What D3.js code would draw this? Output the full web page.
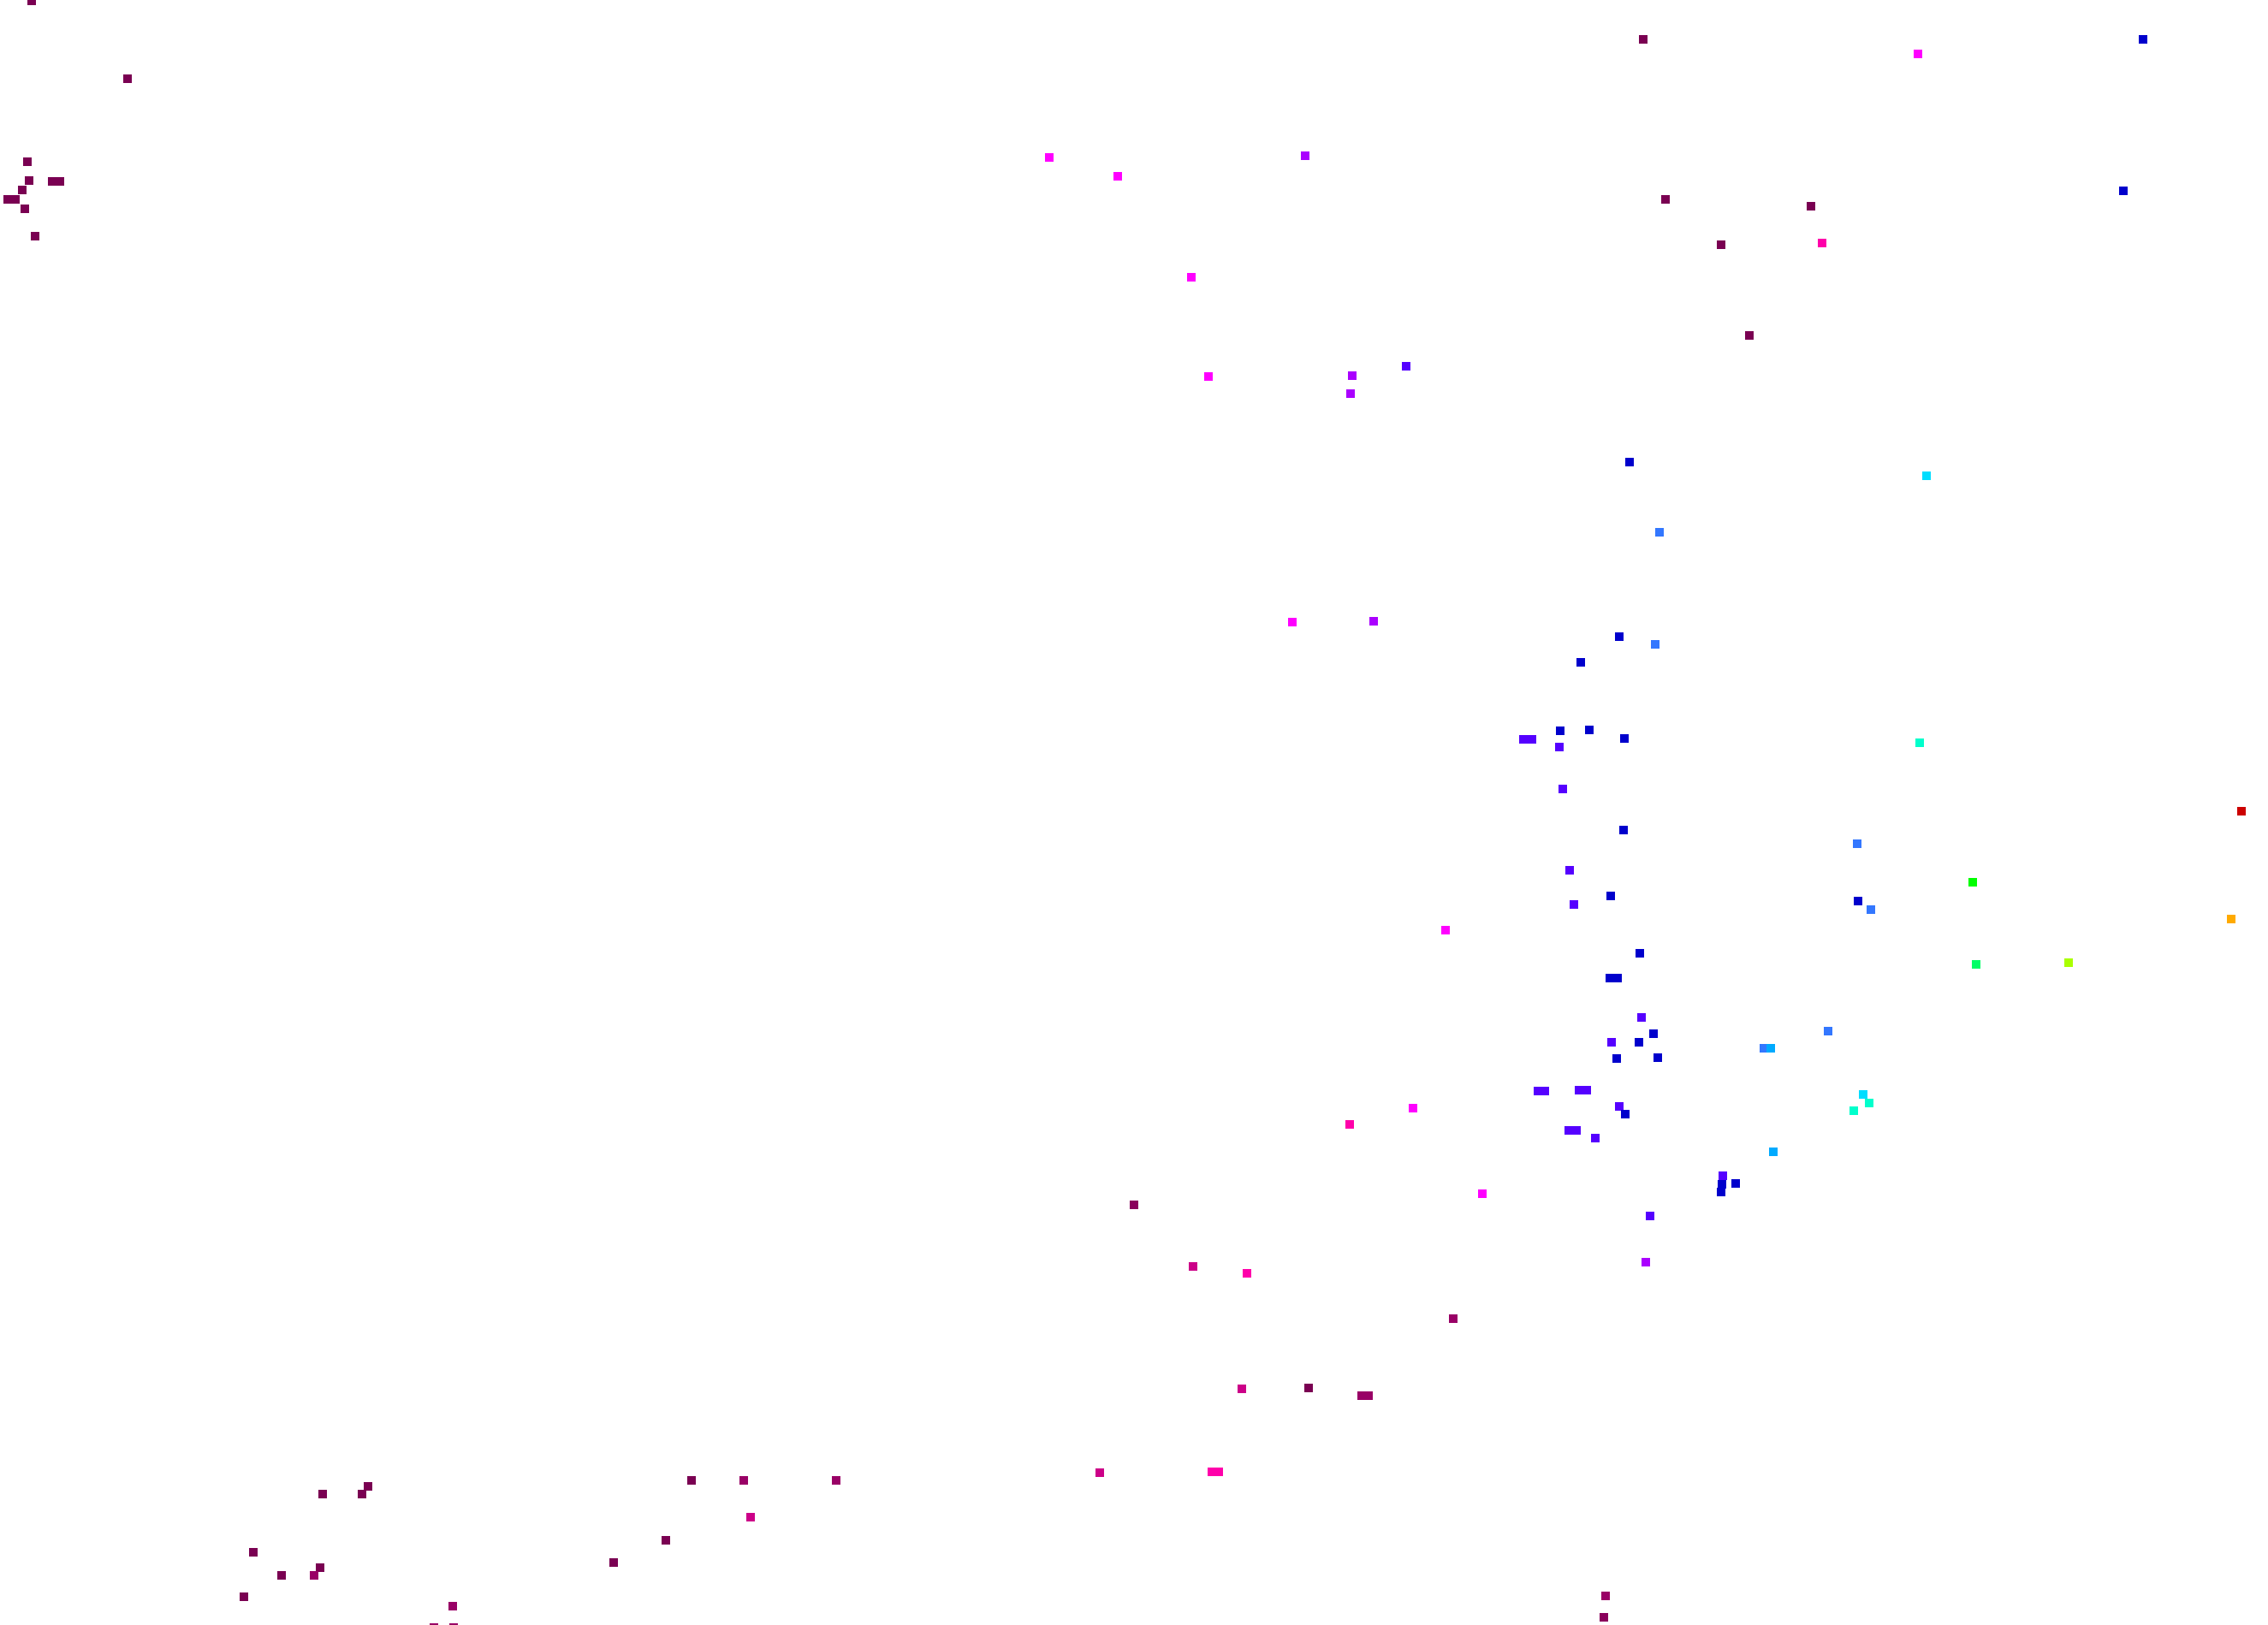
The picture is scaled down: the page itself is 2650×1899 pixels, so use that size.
<!DOCTYPE html>
<html>
<head>
<meta charset="utf-8">
<script src="https://cdn.jsdelivr.net/npm/d3@7"></script>
<style>
  html, body { margin: 0; padding: 0; background: #fff; }
  svg { display: block; }
</style>
</head>
<body>
<svg id="chart"></svg>
<script>
const width = 2650;
const height = 1899;

// colour levels (value -> colour)
const levelStops = [0, 8, 18, 28, 40, 50, 60, 70, 76, 82, 86, 89, 93, 95, 98, 100];
const levelColors = ["#7a0052", "#990066", "#cc0088", "#ff00aa", "#ff00ff", "#aa00ff",
  "#5500ff", "#0000cc", "#3377ff", "#00aaff", "#00ddff", "#00ffcc", "#00ff00",
  "#aaff00", "#ffaa00", "#cc0000"];

// points per level: [x, y]
const lvl0 = [[3.7, 0.1], [14.9, 9.2], [3.2, 18.9], [3.4, 21.1], [6.1, 21.2], [7.0, 21.2],
  [2.6, 22.2], [0.9, 23.3], [1.8, 23.3], [2.9, 24.4], [4.1, 27.6], [192.0, 4.6],
  [194.6, 23.3], [211.6, 24.1], [201.1, 28.6], [204.4, 39.2], [152.9, 162.2],
  [43.0, 173.7], [37.7, 174.6], [42.3, 174.6], [80.8, 173.0], [77.8, 180.0],
  [71.7, 182.6], [29.6, 181.4], [37.4, 183.2], [32.9, 184.1], [28.5, 186.6]];
const lvl4 = [[132.5, 140.8], [187.4, 189.0]];
const lvl8 = [[169.8, 154.1], [159.1, 163.1], [159.9, 163.1], [86.9, 173.0], [97.7, 173.0],
  [36.7, 184.1], [52.9, 187.7], [187.6, 186.5], [50.7, 190.2], [53.0, 190.2]];
const lvl18 = [[139.4, 148.0], [145.1, 162.3], [128.5, 172.1], [87.7, 177.3]];
const lvl28 = [[212.9, 28.4], [157.7, 131.4], [145.7, 148.8], [141.6, 172.0], [142.4, 172.0]];
const lvl40 = [[122.6, 18.4], [130.6, 20.6], [139.2, 32.4], [141.2, 44.0], [224.1, 6.3],
  [151.0, 72.7], [168.9, 108.7], [165.1, 129.5], [173.2, 139.5]];
const lvl50 = [[152.5, 18.2], [158.0, 43.9], [157.8, 46.0], [160.5, 72.6], [192.3, 147.5]];
const lvl60 = [[164.3, 42.8], [178.0, 86.4], [179.0, 86.4], [182.2, 87.3], [182.6, 92.2],
  [183.4, 101.7], [183.9, 105.7], [191.8, 118.9], [188.3, 121.8], [179.7, 127.5],
  [180.5, 127.5], [184.5, 127.4], [185.4, 127.4], [189.2, 129.3], [183.3, 132.1],
  [184.2, 132.1], [186.4, 133.0], [201.3, 137.4], [192.8, 142.1]];
const lvl70 = [[250.4, 4.6], [248.1, 22.3], [190.4, 54.0], [189.2, 74.4], [184.7, 77.4],
  [182.3, 85.4], [185.7, 85.3], [189.8, 86.3], [189.7, 97.0], [188.2, 104.7],
  [217.1, 105.3], [191.6, 111.4], [188.1, 114.3], [189.0, 114.3], [193.2, 120.8],
  [191.5, 121.8], [188.9, 123.7], [193.7, 123.6], [189.9, 130.2], [201.2, 138.4],
  [202.8, 138.3], [201.1, 139.3]];
const lvl76 = [[193.9, 62.2], [193.4, 75.3], [217.0, 98.6], [218.6, 106.3], [213.6, 120.5],
  [206.1, 122.5]];
const lvl82 = [[206.9, 122.5], [207.2, 134.6]];
const lvl86 = [[225.1, 55.6], [217.7, 127.9]];
const lvl89 = [[224.3, 86.8], [218.4, 128.9], [216.6, 129.8]];
const lvl91 = [[230.9, 112.7]];
const lvl93 = [[230.5, 103.1]];
const lvl95 = [[241.7, 112.5]];
const lvl98 = [[260.7, 107.4]];
const lvl100 = [[261.9, 94.8]];

const groups = [
  [0, lvl0], [4, lvl4], [8, lvl8], [18, lvl18], [28, lvl28], [40, lvl40], [50, lvl50],
  [60, lvl60], [70, lvl70], [76, lvl76], [82, lvl82], [86, lvl86], [89, lvl89],
  [91, lvl91], [93, lvl93], [95, lvl95], [98, lvl98], [100, lvl100]
];

const points = [];
groups.forEach(([v, list]) => list.forEach(p => points.push({x: p[0], y: p[1], v: v})));

const x = d3.scaleLinear().domain([0, 265]).range([0, width]);
const y = d3.scaleLinear().domain([0, 189.9]).range([0, height]);
const color = d3.scaleLinear().domain(levelStops).range(levelColors);

const cellW = 9, cellH = 10;

// snap each square outward to whole pixels so touching squares merge
const cellLeft = d => Math.floor(x(d.x) - cellW / 2);
const cellRight = d => Math.ceil(x(d.x) + cellW / 2);
const cellTop = d => Math.round(y(d.y) - cellH / 2);

const svg = d3.select("#chart")
  .attr("width", width)
  .attr("height", height);

svg.append("rect")
  .attr("width", width)
  .attr("height", height)
  .attr("fill", "#fff");

svg.append("g")
  .attr("shape-rendering", "crispEdges")
  .selectAll("rect")
  .data(points)
  .enter()
  .append("rect")
  .attr("x", cellLeft)
  .attr("y", cellTop)
  .attr("width", d => cellRight(d) - cellLeft(d))
  .attr("height", cellH)
  .attr("fill", d => color(d.v));
</script>
</body>
</html>
